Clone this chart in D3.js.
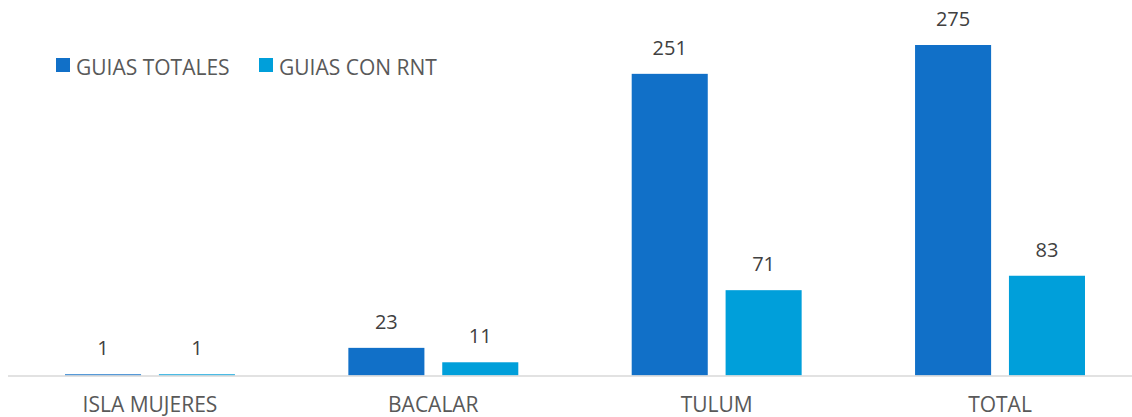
<!DOCTYPE html>
<html>
<head>
<meta charset="utf-8">
<script src="https://cdn.jsdelivr.net/npm/d3@7"></script>
<style>
  body { margin: 0; background: #fff; }
  text { font-family: "Open Sans", "Noto Sans", sans-serif; }
</style>
</head>
<body>
<div id="chart"></div>
<script>
const categories= ['ISLA MUJERES', 'BACALAR', 'TULUM', 'TOTAL'];
const seriesNames= ['GUIAS TOTALES', 'GUIAS CON RNT'];
const guiasTotales= [1, 23, 251, 275];
const guiasConRnt= [1, 11, 71, 83];
const colors= ['#1170c8', '#009fda'];

const W= 1132, H= 417;
const baseY= 375.5;

const svg= d3.select('#chart').append('svg')
  .attr('width', W).attr('height', H);

const x0= d3.scaleBand().domain(categories).range([8.3, 1141.7]).paddingInner(0).paddingOuter(0);
const x1= d3.scaleBand().domain(seriesNames).range([56.7, x0.bandwidth()-56.7]).paddingInner(0.19);
const y= d3.scaleLinear().domain([0, 275]).range([baseY, 45]);

const rows= categories.map((c, i) => ({ cat: c, vals: [guiasTotales[i], guiasConRnt[i]] }));

const g= svg.append('g');
const groups= g.selectAll('g.cat').data(rows).join('g')
  .attr('class', 'cat')
  .attr('transform', d => `translate(${x0(d.cat)},0)`);

groups.selectAll('rect').data(d => d.vals.map((v, j) => ({ v, j }))).join('rect')
  .attr('x', d => x1(seriesNames[d.j]))
  .attr('width', x1.bandwidth())
  .attr('y', d => y(d.v))
  .attr('height', d => baseY-y(d.v))
  .attr('fill', d => colors[d.j]);

groups.selectAll('text.val').data(d => d.vals.map((v, j) => ({ v, j }))).join('text')
  .attr('class', 'val')
  .attr('x', d => x1(seriesNames[d.j])+x1.bandwidth()/2)
  .attr('y', d => y(d.v)-19)
  .attr('text-anchor', 'middle')
  .attr('font-size', 20)
  .attr('fill', '#404040')
  .text(d => d.v);

// baseline
svg.append('line')
  .attr('x1', 8).attr('x2', W)
  .attr('y1', baseY+0.5).attr('y2', baseY+0.5)
  .attr('stroke', '#d9d9d9').attr('stroke-width', 1.5);

// category labels
svg.selectAll('text.cat').data(categories).join('text')
  .attr('class', 'cat')
  .attr('x', d => x0(d)+x0.bandwidth()/2)
  .attr('y', 412)
  .attr('text-anchor', 'middle')
  .attr('font-size', 21)
  .attr('fill', '#595959')
  .text(d => d);

// legend
const legX= [56, 259];
const leg= svg.selectAll('g.leg').data(seriesNames).join('g')
  .attr('class', 'leg')
  .attr('transform', (d, i) => `translate(${legX[i]},58)`);
leg.append('rect').attr('width', 14).attr('height', 14)
  .attr('fill', (d, i) => colors[i]);
leg.append('text').attr('x', 20).attr('y', 17)
  .attr('font-size', 21)
  .attr('fill', '#595959')
  .text(d => d);
</script>
</body>
</html>
